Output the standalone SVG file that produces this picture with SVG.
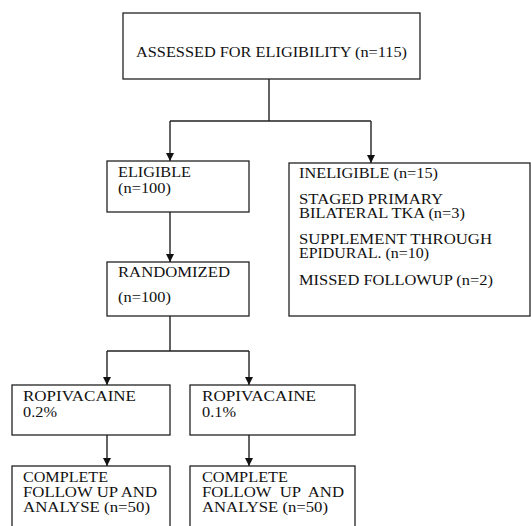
<svg xmlns="http://www.w3.org/2000/svg" width="531" height="526" viewBox="0 0 531 526">
<defs>
<style>
.box{fill:#fff;stroke:#222;stroke-width:1.3}
.c{fill:none;stroke:#222;stroke-width:1.4}
.t{font-family:'Liberation Serif','Times New Roman',serif;font-size:14px;fill:#111}
</style>
<marker id="ah" markerUnits="userSpaceOnUse" markerWidth="10" markerHeight="10" viewBox="0 0 10 10" refX="8" refY="5" orient="auto">
<path d="M0,1 L8,5 L0,9 Z" fill="#111"/>
</marker>
</defs>
<rect width="531" height="526" fill="#fff"/>
<g id="connectors">
<path class="c" d="M269,79 V121 M170,121 H371"/>
<path class="c" d="M170,121 V161" marker-end="url(#ah)"/>
<path class="c" d="M371,121 V163" marker-end="url(#ah)"/>
<path class="c" d="M170,212 V262" marker-end="url(#ah)"/>
<path class="c" d="M170,316 V351 M107,351 H249"/>
<path class="c" d="M107,351 V385" marker-end="url(#ah)"/>
<path class="c" d="M249,351 V385" marker-end="url(#ah)"/>
<path class="c" d="M107,435 V466" marker-end="url(#ah)"/>
<path class="c" d="M249,435 V466" marker-end="url(#ah)"/>
</g>
<g font-family="Liberation Serif, Times New Roman, serif" font-size="14">
<g id="assessed">
<rect class="box" x="123" y="13" width="297" height="66"/>
<text class="t" x="136" y="57" textLength="271" lengthAdjust="spacingAndGlyphs">ASSESSED FOR ELIGIBILITY (n=115)</text>
</g>
<g id="eligible">
<rect class="box" x="107" y="161" width="142" height="51"/>
<text class="t" x="118" y="177" textLength="73" lengthAdjust="spacingAndGlyphs">ELIGIBLE</text>
<text class="t" x="118" y="193" textLength="53" lengthAdjust="spacingAndGlyphs">(n=100)</text>
</g>
<g id="ineligible">
<rect class="box" x="289" y="163" width="241" height="153"/>
<text class="t" x="299" y="178" textLength="139" lengthAdjust="spacingAndGlyphs">INELIGIBLE (n=15)</text>
<text class="t" x="299" y="204" textLength="144" lengthAdjust="spacingAndGlyphs">STAGED PRIMARY</text>
<text class="t" x="299" y="218" textLength="166" lengthAdjust="spacingAndGlyphs">BILATERAL TKA (n=3)</text>
<text class="t" x="299" y="244" textLength="193" lengthAdjust="spacingAndGlyphs">SUPPLEMENT THROUGH</text>
<text class="t" x="299" y="258" textLength="130" lengthAdjust="spacingAndGlyphs">EPIDURAL. (n=10)</text>
<text class="t" x="299" y="285" textLength="194" lengthAdjust="spacingAndGlyphs">MISSED FOLLOWUP (n=2)</text>
</g>
<g id="randomized">
<rect class="box" x="107" y="262" width="142" height="54"/>
<text class="t" x="118" y="277" textLength="112" lengthAdjust="spacingAndGlyphs">RANDOMIZED</text>
<text class="t" x="118" y="302" textLength="53" lengthAdjust="spacingAndGlyphs">(n=100)</text>
</g>
<g id="ropivacaine02">
<rect class="box" x="12" y="385" width="158" height="50"/>
<text class="t" x="23" y="401" textLength="113" lengthAdjust="spacingAndGlyphs">ROPIVACAINE</text>
<text class="t" x="23" y="417" textLength="34" lengthAdjust="spacingAndGlyphs">0.2%</text>
</g>
<g id="ropivacaine01">
<rect class="box" x="190" y="385" width="165" height="50"/>
<text class="t" x="202" y="401" textLength="114" lengthAdjust="spacingAndGlyphs">ROPIVACAINE</text>
<text class="t" x="202" y="417" textLength="34" lengthAdjust="spacingAndGlyphs">0.1%</text>
</g>
<g id="complete02">
<rect class="box" x="12" y="466" width="158" height="70"/>
<text class="t" x="23" y="482" textLength="85" lengthAdjust="spacingAndGlyphs">COMPLETE</text>
<text class="t" x="23" y="497" textLength="134" lengthAdjust="spacingAndGlyphs">FOLLOW UP AND</text>
<text class="t" x="23" y="512" textLength="127" lengthAdjust="spacingAndGlyphs">ANALYSE (n=50)</text>
</g>
<g id="complete01">
<rect class="box" x="190" y="466" width="165" height="70"/>
<text class="t" x="202" y="482" textLength="86" lengthAdjust="spacingAndGlyphs">COMPLETE</text>
<text class="t" x="202" y="497" textLength="142" lengthAdjust="spacingAndGlyphs" xml:space="preserve">FOLLOW  UP  AND</text>
<text class="t" x="202" y="512" textLength="126" lengthAdjust="spacingAndGlyphs">ANALYSE (n=50)</text>
</g>
</g>
</svg>
